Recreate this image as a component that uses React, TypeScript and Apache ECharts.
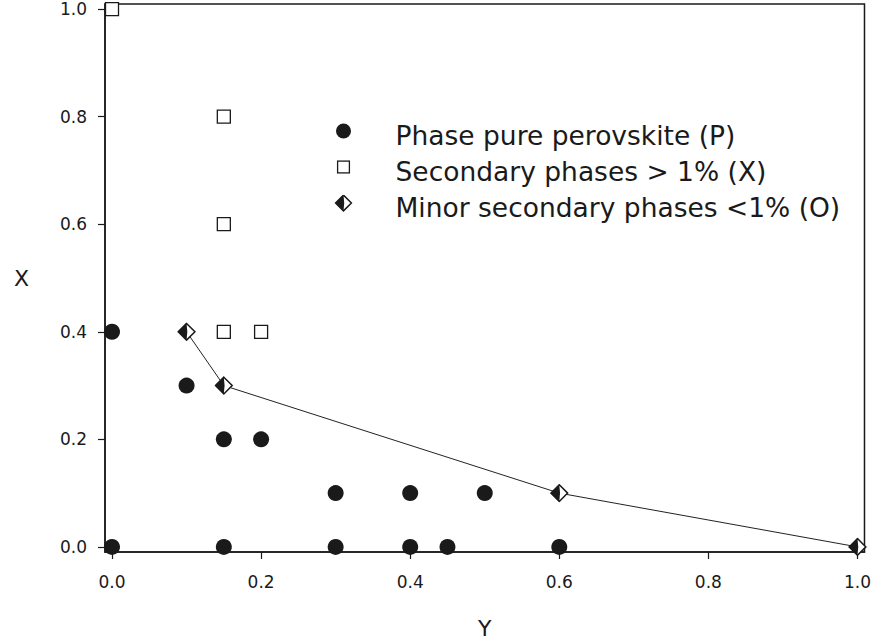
import React, { useEffect, useRef } from "react";
import * as echarts from "echarts";

const SERIES_NAMES = [
  "Phase pure perovskite (P)",
  "Secondary phases > 1% (X)",
  "Minor secondary phases <1% (O)",
];

const pureY = [0, 0, 0.1, 0.15, 0.15, 0.2, 0.3, 0.3, 0.4, 0.4, 0.45, 0.5, 0.6];
const pureX = [0, 0.4, 0.3, 0.2, 0, 0.2, 0.1, 0, 0.1, 0, 0, 0.1, 0];

const secY = [0, 0.15, 0.15, 0.15, 0.2];
const secX = [1.0, 0.8, 0.6, 0.4, 0.4];

const minorY = [0.1, 0.15, 0.6, 1.0];
const minorX = [0.4, 0.3, 0.1, 0];

const TICKS = [0, 0.2, 0.4, 0.6, 0.8, 1.0];

const INK = "#1a1a1a";
const FONT = "DejaVu Sans";

const svgUri = (svg: string) =>
  "image://data:image/svg+xml;charset=utf-8," + encodeURIComponent(svg);

const diamondSvg =
  '<svg xmlns="http://www.w3.org/2000/svg" width="20" height="20" viewBox="0 0 20 20">' +
  '<polygon points="10,1.2 18.8,10 10,18.8 1.2,10" fill="#ffffff" stroke="#1a1a1a" stroke-width="1.6" stroke-linejoin="miter"/>' +
  '<polygon points="10,1.2 1.2,10 10,18.8 10.8,10" fill="#1a1a1a"/>' +
  "</svg>";

// legend icons: 17 x 25 canvas, mark centred at y = 8.5 so the text sits a little lower
const circleLegendSvg =
  '<svg xmlns="http://www.w3.org/2000/svg" width="17" height="25" viewBox="0 0 17 25">' +
  '<circle cx="8.5" cy="8.5" r="7.5" fill="#1a1a1a"/></svg>';

const squareLegendSvg =
  '<svg xmlns="http://www.w3.org/2000/svg" width="17" height="25" viewBox="0 0 17 25">' +
  '<rect x="2.6" y="2.6" width="11.8" height="11.8" fill="#ffffff" stroke="#1a1a1a" stroke-width="1.3"/></svg>';

const diamondLegendSvg =
  '<svg xmlns="http://www.w3.org/2000/svg" width="17" height="25" viewBox="0 0 17 25">' +
  '<polygon points="8.5,0.6 16.4,8.5 8.5,16.4 0.6,8.5" fill="#ffffff" stroke="#1a1a1a" stroke-width="1.5" stroke-linejoin="miter"/>' +
  '<polygon points="8.5,0.6 0.6,8.5 8.5,16.4 9.2,8.5" fill="#1a1a1a"/>' +
  "</svg>";

const zip = (a: number[], b: number[]) => a.map((v, i) => [v, b[i]]);

export default function App() {
  const ref = useRef<HTMLDivElement>(null);

  useEffect(() => {
    if (!ref.current) return;
    const chart = echarts.init(ref.current, undefined, { renderer: "svg" });
    const diamond = svgUri(diamondSvg);

    const axisCommon = {
      type: "value" as const,
      splitLine: { show: false },
      axisLine: { show: true, onZero: false, lineStyle: { color: INK, width: 1.5 } },
      axisTick: {
        show: true,
        inside: false,
        length: 7,
        customValues: TICKS,
        lineStyle: { color: INK, width: 1.2 },
      },
      nameTextStyle: { fontFamily: FONT, fontSize: 22, color: INK },
    };

    chart.setOption({
      animation: false,
      backgroundColor: "#ffffff",
      grid: {
        left: 105,
        right: 7,
        top: 4,
        bottom: 92,
        show: true,
        borderColor: INK,
        borderWidth: 1.5,
        backgroundColor: "transparent",
      },
      xAxis: {
        ...axisCommon,
        min: -0.0094,
        max: 1.0094,
        name: "Y",
        nameLocation: "middle",
        nameGap: 65,
        axisLabel: {
          customValues: TICKS,
          margin: 21,
          fontFamily: FONT,
          fontSize: 17,
          color: INK,
          formatter: (v: number) => v.toFixed(1),
        },
      },
      yAxis: {
        ...axisCommon,
        min: -0.0095,
        max: 1.0095,
        name: "X",
        nameLocation: "middle",
        nameRotate: 0,
        nameGap: 76,
        axisLabel: {
          customValues: TICKS,
          margin: 18,
          fontFamily: FONT,
          fontSize: 17,
          color: INK,
          formatter: (v: number) => v.toFixed(1),
        },
      },
      legend: {
        orient: "vertical",
        left: 296.5,
        top: 121.5,
        padding: 0,
        itemWidth: 94,
        itemHeight: 25,
        itemGap: 9,
        selectedMode: false,
        textStyle: {
          fontFamily: FONT,
          fontSize: 26.5,
          lineHeight: 25,
          color: INK,
        },
        data: [
          { name: SERIES_NAMES[0], icon: svgUri(circleLegendSvg) },
          { name: SERIES_NAMES[1], icon: svgUri(squareLegendSvg) },
          { name: SERIES_NAMES[2], icon: svgUri(diamondLegendSvg) },
        ],
      },
      series: [
        {
          name: SERIES_NAMES[2],
          type: "line",
          data: zip(minorY, minorX),
          symbol: diamond,
          symbolSize: 19,
          showAllSymbol: true,
          clip: false,
          lineStyle: { color: "#222222", width: 1 },
          itemStyle: { color: INK },
          z: 3,
        },
        {
          name: SERIES_NAMES[0],
          type: "scatter",
          data: zip(pureY, pureX),
          symbol: "circle",
          symbolSize: 16,
          clip: false,
          itemStyle: { color: INK, opacity: 1 },
          z: 4,
        },
        {
          name: SERIES_NAMES[1],
          type: "scatter",
          data: zip(secY, secX),
          symbol: "rect",
          symbolSize: 13,
          clip: false,
          itemStyle: {
            color: "#ffffff",
            borderColor: INK,
            borderWidth: 1.3,
            opacity: 1,
          },
          z: 4,
        },
      ],
    });

    return () => chart.dispose();
  }, []);

  return (
    <div
      ref={ref}
      style={{ position: "absolute", left: 0, top: 0, width: 874, height: 644 }}
    />
  );
}
